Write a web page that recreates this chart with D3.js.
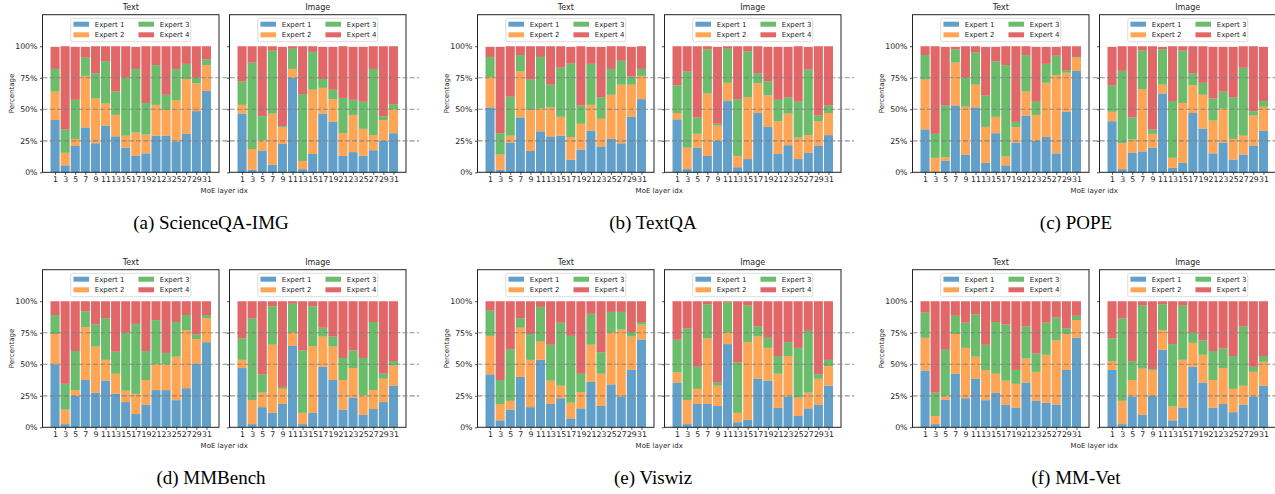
<!DOCTYPE html>
<html>
<head>
<meta charset="utf-8">
<script src="https://cdn.jsdelivr.net/npm/d3@7"></script>
<style>
  body { margin: 0; background: #fff; }
  svg { display: block; font-family: "DejaVu Sans", sans-serif; }
</style>
</head>
<body>
<script>
// MoE layers shown on the x axis
const layers = [1, 3, 5, 7, 9, 11, 13, 15, 17, 19, 21, 23, 25, 27, 29, 31];
const experts = ["Expert 1", "Expert 2", "Expert 3", "Expert 4"];
const expertColors = ["#1f77b4", "#ff7f0e", "#2ca02c", "#d62728"];
const yTicks = [0, 25, 50, 75, 100];
const gridLevels = [25, 50, 75];
const subTitles = ["Text", "Image"];
const captions = ["(a) ScienceQA-IMG", "(b) TextQA", "(c) POPE", "(d) MMBench", "(e) Viswiz", "(f) MM-Vet"];

// share of tokens per expert (%), one row per layer: [E1, E2, E3, E4]
const scienceqaText = [
  [41.5, 22.5, 18, 17.5], [5.5, 10, 18.5, 66], [21, 5.5, 31, 42], [35.5, 41, 14.5, 8.5],
  [23, 35.5, 20, 21.5], [37, 17.5, 33.5, 12], [28.5, 17, 18.5, 36], [19.5, 9.5, 46, 25],
  [13, 18.5, 50.5, 17.5], [15, 15, 25, 45], [29, 24.5, 31.5, 15], [29, 20.5, 12, 38.5],
  [24.5, 32.5, 25, 18], [30.5, 43.5, 12, 14], [48.5, 22, 4.5, 25], [64.5, 20.5, 4.5, 10.5]
];
const scienceqaImage = [
  [46.5, 7, 18.5, 28], [2, 16.5, 68.5, 13], [17, 8.5, 19, 55.5], [6, 40.5, 50, 3.5],
  [22.5, 13, 1, 63], [75, 7, 16, 2], [2.5, 6.5, 53, 38], [14.5, 51, 30, 4.5],
  [46.5, 20.5, 7, 25.5], [40, 18, 7.5, 34], [13, 18, 28, 41], [16, 29.5, 12, 42],
  [13, 21.5, 21.5, 43.5], [17.5, 12, 52.5, 18], [25, 16.5, 3, 55.5], [31, 19, 4, 46]
];
const textqaText = [
  [51.5, 24, 16, 8], [2, 12, 17, 68.5], [23.5, 5.5, 31, 40], [43.5, 36.5, 13, 7],
  [17, 32.5, 24, 26.5], [32.5, 18, 41, 8.5], [28.5, 23, 18, 30.5], [29, 15, 39, 17],
  [10, 18, 58.5, 13], [18, 20.5, 14.5, 47], [33, 20.5, 32.5, 13.5], [20.5, 22, 17, 40],
  [26.5, 35, 20.5, 18], [23, 46.5, 19, 11.5], [44, 25.5, 6.5, 23.5], [58, 18.5, 5.5, 18]
];
const textqaImage = [
  [42, 5, 22, 31], [2.5, 17, 60.5, 20], [19.5, 11, 13, 56.5], [13, 49.5, 35, 2.5],
  [25, 12, 1.5, 61], [56.5, 14.5, 27, 2], [4, 9, 45, 42], [10.5, 49, 36.5, 4],
  [47, 23.5, 8, 21.5], [36, 25, 11, 27.5], [14.5, 26, 17, 42], [21.5, 25, 13, 40],
  [10.5, 17, 28.5, 44], [15.5, 14, 52, 18], [21, 19.5, 4.5, 55], [29.5, 17.5, 6, 47]
];
const popeText = [
  [34, 39.5, 19.5, 7], [0.5, 11, 19, 69.5], [9, 3, 41, 46.5], [53, 34, 10.5, 2],
  [14, 38, 23, 25], [51.5, 18, 25.5, 5], [7.5, 28.5, 25, 38.5], [31, 13, 44, 11.5],
  [5.5, 7, 72.5, 15], [23.5, 12.5, 4, 60], [45, 19, 29, 7], [25, 20.5, 10.5, 43.5],
  [28, 43, 15, 13.5], [15, 62, 15.5, 7], [48, 31, 2, 19], [80.5, 10.5, 0.5, 8.5]
];
const popeImage = [
  [40.5, 7.5, 21, 30.5], [2.5, 20.5, 57.5, 19.5], [15.5, 10.5, 17.5, 56.5], [16.5, 49.5, 30.5, 3.5],
  [19.5, 11, 3.5, 66], [62.5, 7, 28, 2], [3.5, 8, 45, 43.5], [7.5, 47.5, 41.5, 3.5],
  [47, 22, 9.5, 21.5], [34.5, 27, 9.5, 29], [15, 26, 17.5, 41], [23.5, 27, 13.5, 35.5],
  [10, 16.5, 33, 40], [14, 15, 54, 17], [21, 24, 3.5, 51.5], [33, 19, 4.5, 43]
];
const mmbenchText = [
  [50, 24, 15, 11], [2.5, 11.5, 20.5, 65.5], [25, 4.5, 31, 39.5], [37.5, 42, 12.5, 8],
  [27.5, 36.5, 17.5, 18.5], [37, 16.5, 33, 13.5], [26.5, 16, 17.5, 40], [20, 9, 46, 25],
  [10.5, 16, 55.5, 18], [18, 19.5, 23, 39.5], [29.5, 20.5, 35, 15], [29.5, 20.5, 9, 41],
  [21.5, 34.5, 27.5, 16.5], [31, 46, 12, 11], [50.5, 19.5, 3.5, 26.5], [67.5, 19, 2.5, 11]
];
const mmbenchImage = [
  [47, 6.5, 17, 29.5], [2.5, 19, 65, 13.5], [16, 11.5, 14.5, 58], [11.5, 54, 30.5, 4],
  [18.5, 12, 1.5, 68], [64.5, 10.5, 23, 2], [2.5, 9, 49.5, 39], [11.5, 53, 31.5, 4],
  [48, 24, 7, 21], [37.5, 26.5, 8, 28], [14, 23.5, 17.5, 45], [23.5, 23.5, 14, 39],
  [10, 15.5, 29.5, 45], [14.5, 15, 54, 16.5], [20, 18.5, 4, 57.5], [33, 16, 3.5, 47.5]
];
const viswizText = [
  [42, 30.5, 20, 7.5], [5.5, 13, 19, 62.5], [14, 7, 41, 38], [40, 39, 7.5, 13.5],
  [16, 37.5, 20.5, 26], [53.5, 14.5, 27.5, 4.5], [18.5, 18.5, 28.5, 34.5], [23, 10, 50, 17],
  [7, 12.5, 53, 27.5], [15, 13, 14.5, 57.5], [36, 29.5, 24.5, 10], [17, 25.5, 17, 40.5],
  [34, 41, 16.5, 8.5], [24.5, 53, 14, 8.5], [45.5, 26.5, 3.5, 24.5], [69.5, 12, 2, 16.5]
];
const viswizImage = [
  [35.5, 8, 26, 30.5], [2.5, 19, 57, 21.5], [18.5, 12, 17.5, 52], [18.5, 52, 27, 2.5],
  [17, 16, 2.5, 64.5], [66, 9, 24, 1], [4, 7.5, 40, 48.5], [6, 61.5, 29, 3.5],
  [38.5, 33.5, 8, 20], [37, 26, 8, 29], [15.5, 27, 14, 43.5], [24.5, 32, 11, 32.5],
  [9, 14.5, 39.5, 37], [15, 12.5, 49, 23.5], [18, 20.5, 3.5, 58], [33, 15.5, 5, 46.5]
];
const mmvetText = [
  [45, 26, 20, 9], [2.5, 6.5, 18.5, 72.5], [22, 3, 36.5, 38.5], [42.5, 31.5, 14.5, 11.5],
  [23, 40, 20, 17], [38.5, 17.5, 33.5, 10.5], [21.5, 24, 20, 34.5], [27.5, 15, 41, 16.5],
  [18, 19, 44.5, 18.5], [15.5, 19, 11, 54.5], [35.5, 19, 25.5, 20], [21, 23, 14.5, 41.5],
  [19.5, 38, 25.5, 17], [18, 51, 18, 13], [45.5, 28.5, 4.5, 21.5], [71, 14, 3.5, 11.5]
];
const mmvetImage = [
  [45.5, 7, 18, 29.5], [2.5, 18.5, 65.5, 13.5], [24.5, 13, 15, 47.5], [10, 36.5, 50, 3.5],
  [25, 20, 1, 54], [61.5, 15.5, 20.5, 2.5], [5.5, 11, 49.5, 34], [15.5, 38, 43, 3.5],
  [48, 19, 8, 25], [35.5, 22, 11.5, 31], [15.5, 22, 23, 39.5], [18.5, 28.5, 15.5, 37.5],
  [12, 18.5, 26, 43.5], [18, 15, 47, 20], [24.5, 19.5, 4, 52], [33, 19, 4.5, 43.5]
];

const panels = [
  { caption: captions[0], text: scienceqaText, image: scienceqaImage },
  { caption: captions[1], text: textqaText, image: textqaImage },
  { caption: captions[2], text: popeText, image: popeImage },
  { caption: captions[3], text: mmbenchText, image: mmbenchImage },
  { caption: captions[4], text: viswizText, image: viswizImage },
  { caption: captions[5], text: mmvetText, image: mmvetImage }
];

// layout
const colX = [0, 435, 870];
const rowY = [0, 255];
const captionX = [211, 653, 1076];
const axLeft = [42.5, 229.5];
const axW = 176.5;
const axTop = 14.7;
const axH = 157.6;
const pad = 1.245;

const svg = d3.select("body").append("svg")
  .attr("width", 1275)
  .attr("height", 494);

function drawSubplot(x0, y0, title, rows, withLabels) {
  const x = d3.scaleLinear()
    .domain([-pad, layers.length - 1 + pad])
    .range([x0, x0 + axW]);
  const y = d3.scaleLinear()
    .domain([0, 125])
    .range([y0 + axH, y0]);

  const g = svg.append("g");

  // Stacked bars
  const series = d3.stack()
    .keys(d3.range(experts.length))
    .value((d, k) => d[k])(rows);

  g.selectAll(".series")
    .data(series)
    .enter().append("g")
    .attr("class", "series")
    .attr("fill", (s, i) => expertColors[i])
    .attr("fill-opacity", 0.7)
    .selectAll("rect")
    .data(s => s)
    .enter().append("rect")
    .attr("x", (d, i) => x(i - 0.45))
    .attr("width", x(0.9) - x(0))
    .attr("y", d => y(d[1]))
    .attr("height", d => y(d[0]) - y(d[1]));

  // X axis
  const xAxis = g.append("g")
    .attr("transform", "translate(0," + (y0 + axH) + ")")
    .call(d3.axisBottom(x)
      .tickValues(d3.range(layers.length))
      .tickFormat(i => layers[i])
      .tickSize(2.5)
      .tickPadding(2));

  // Y axis
  const yAxis = g.append("g")
    .attr("transform", "translate(" + x0 + ",0)")
    .call(d3.axisLeft(y)
      .tickValues(yTicks)
      .tickFormat(d => withLabels ? d + "%" : "")
      .tickSize(2.5)
      .tickPadding(2.5));

  [xAxis, yAxis].forEach(a => {
    a.select(".domain").remove();
    a.selectAll("line").attr("stroke", "#222").attr("stroke-width", 0.8);
    a.selectAll("text")
      .attr("fill", "#262626")
      .style("font-size", "7.8px")
      .style("font-family", "DejaVu Sans");
  });

  // Spines
  g.append("rect")
    .attr("x", x0)
    .attr("y", y0)
    .attr("width", axW)
    .attr("height", axH)
    .attr("fill", "none")
    .attr("stroke", "#222")
    .attr("stroke-width", 1);

  // Title
  g.append("text")
    .attr("x", x0 + axW / 2)
    .attr("y", y0 - 4.6)
    .attr("text-anchor", "middle")
    .attr("fill", "#262626")
    .style("font-size", "8px")
    .text(title);

  // Legend
  const lw = 120, lh = 23.4;
  const legend = g.append("g")
    .attr("transform", "translate(" + (x0 + axW / 2 - lw / 2) + "," + (y0 + 3.6) + ")");

  legend.append("rect")
    .attr("width", lw)
    .attr("height", lh)
    .attr("rx", 2)
    .attr("fill", "#fff")
    .attr("fill-opacity", 0.8)
    .attr("stroke", "#d4d4d4")
    .attr("stroke-width", 0.8);

  const item = legend.selectAll(".item")
    .data(experts)
    .enter().append("g")
    .attr("class", "item")
    .attr("transform", (d, i) => "translate(" + (Math.floor(i / 2) * 65 + 2.7) + "," + ((i % 2) * 10.6 + 5.9) + ")");

  item.append("rect")
    .attr("y", -2.5)
    .attr("width", 15.6)
    .attr("height", 5)
    .attr("fill", (d, i) => expertColors[i])
    .attr("fill-opacity", 0.7);

  item.append("text")
    .attr("x", 21.3)
    .attr("dy", "0.35em")
    .attr("fill", "#262626")
    .style("font-size", "7px")
    .text(d => d);

  return y;
}

panels.forEach((p, idx) => {
  const cx = colX[idx % 3];
  const ry = rowY[Math.floor(idx / 3)];
  const top = ry + axTop;

  const y = drawSubplot(cx + axLeft[0], top, subTitles[0], p.text, true);
  drawSubplot(cx + axLeft[1], top, subTitles[1], p.image, false);

  // dashed reference lines across both subplots
  svg.append("g").selectAll("line")
    .data(gridLevels)
    .enter().append("line")
    .attr("x1", cx + axLeft[0])
    .attr("x2", cx + axLeft[1] + axW + 13)
    .attr("y1", d => y(d))
    .attr("y2", d => y(d))
    .attr("stroke", "#7f7f7f")
    .attr("stroke-opacity", 0.85)
    .attr("stroke-width", 1.2)
    .attr("stroke-dasharray", "5,2.2");

  // Y label
  svg.append("text")
    .attr("transform", "translate(" + (cx + 13.5) + "," + (top + axH / 2) + ") rotate(-90)")
    .attr("text-anchor", "middle")
    .attr("fill", "#262626")
    .style("font-size", "7px")
    .text("Percentage");

  // X label, centred under both subplots
  svg.append("text")
    .attr("x", cx + (axLeft[0] + axLeft[1] + axW) / 2)
    .attr("y", top + axH + 21)
    .attr("text-anchor", "middle")
    .attr("fill", "#262626")
    .style("font-size", "7px")
    .text("MoE layer idx");

  // Caption
  svg.append("text")
    .attr("x", captionX[idx % 3])
    .attr("y", ry + 228.5)
    .attr("text-anchor", "middle")
    .attr("fill", "#000")
    .style("font-family", "'Liberation Serif', 'Times New Roman', serif")
    .style("font-size", "19px")
    .text(p.caption);
});
</script>
</body>
</html>
